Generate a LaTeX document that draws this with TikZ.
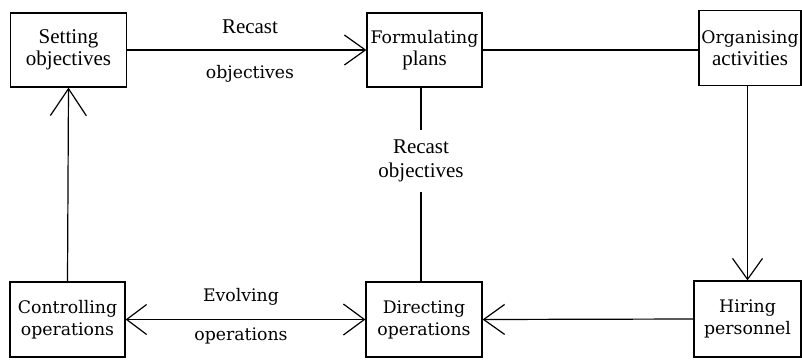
\documentclass[tikz,border=0pt]{standalone}
\usepackage{fontspec}
\setmainfont{Liberation Serif}
\newfontfamily\altserif{DejaVu Serif}
\usetikzlibrary{arrows.meta}

% Two faces: a Times-like serif and a wider, heavier serif
\newcommand{\tms}{\rmfamily\fontsize{21}{22}\selectfont}
\newcommand{\alt}{\altserif\fontsize{17.3}{22}\selectfont}

\tikzset{
  stagebox/.style={draw, line width=1.2pt, inner sep=0pt, align=center},
  link/.style={line width=1.2pt},
  barb/.style={line width=1.2pt,
    -{Straight Barb[length=21pt, width=30pt, line width=1.2pt]}},
  dbarb/.style={line width=1.2pt,
    {Straight Barb[length=20pt, width=30pt, line width=1.2pt]}-{Straight Barb[length=21pt, width=31pt, line width=1.2pt]}},
  lbl/.style={inner sep=0pt, align=center}
}

\begin{document}
\begin{tikzpicture}[x=1pt, y=-1pt]
  \useasboundingbox (0,0) rectangle (802,359);

  % Planning stages (top row)
  \node[stagebox, font=\tms, minimum width=116pt, minimum height=74pt] (set) at (68.5,50)
    {Setting\\objectives};
  \node[stagebox, font=\tms, minimum width=115pt, minimum height=74pt] (form) at (424.5,50)
    {{\alt Formulating}\\plans};
  \node[stagebox, font=\tms, minimum width=102pt, minimum height=75pt] (org) at (750,48)
    {{\alt Organising}\\activities};

  % Operating stages (bottom row)
  \node[stagebox, font=\alt, minimum width=115pt, minimum height=75pt] (ctrl) at (67.5,319.5)
    {Controlling\\operations};
  \node[stagebox, font=\alt, minimum width=116pt, minimum height=75pt] (dir) at (424,319.5)
    {Directing\\operations};
  \node[stagebox, font=\alt, minimum width=107pt, minimum height=76pt] (hire) at (747.5,319)
    {Hiring\\personnel};

  % Edge labels
  \node[lbl, font=\tms] (rc1a) at (250,27) {Recast};
  \node[lbl, font=\alt] (rc1b) at (250,74) {objectives};
  \node[lbl, font=\tms, minimum height=62pt] (rc2) at (421,161)
    {Recast\\[2pt]objectives};
  \node[lbl, font=\alt] (ev1) at (241,297) {Evolving};
  \node[lbl, font=\alt] (ev2) at (241,336) {operations};

  % Connectors
  \draw[barb] (set.east) -- (form.west);
  \draw[link] (form.east) -- (form.east -| org.west);
  \draw[link] (form.south -| rc2) -- (rc2.north);
  \draw[link] (rc2.south) -- (dir.north -| rc2);
  \draw[barb] (org.south -| hire) -- (hire.north);
  \draw[barb] (hire.west) -- (dir.east);
  \draw[dbarb] (ctrl.east) -- (dir.west);
  \draw[line width=1.2pt, -{Straight Barb[length=27pt, width=36pt, line width=1.2pt]}]
    (ctrl.north) -- (set.south);
\end{tikzpicture}
\end{document}
